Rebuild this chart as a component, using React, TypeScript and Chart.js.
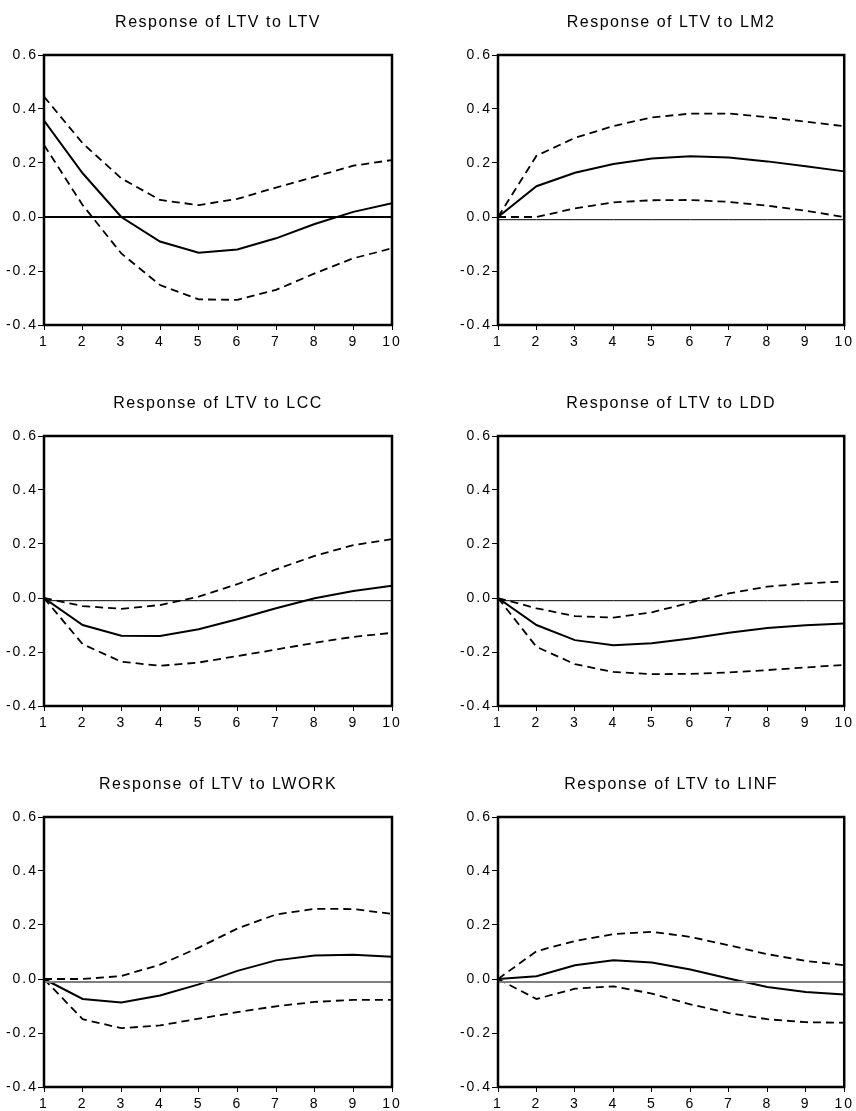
import React, { useEffect, useRef } from "react";
import { Chart, registerables } from "chart.js";

Chart.register(...registerables);

// ---------- data ----------
const periods = [1, 2, 3, 4, 5, 6, 7, 8, 9, 10];
const yMin = -0.4;
const yMax = 0.6;
const yStep = 0.2;

const titles = [
  "Response of LTV to LTV",
  "Response of LTV to LM2",
  "Response of LTV to LCC",
  "Response of LTV to LDD",
  "Response of LTV to LWORK",
  "Response of LTV to LINF",
];

const ltvResp = [0.357, 0.162, 0.0, -0.091, -0.132, -0.12, -0.079, -0.026, 0.019, 0.051];
const ltvUpper = [0.446, 0.273, 0.143, 0.063, 0.044, 0.067, 0.109, 0.149, 0.19, 0.211];
const ltvLower = [0.267, 0.044, -0.135, -0.252, -0.305, -0.307, -0.27, -0.209, -0.153, -0.116];

const lm2Resp = [0, 0.114, 0.164, 0.196, 0.217, 0.225, 0.22, 0.206, 0.188, 0.169];
const lm2Upper = [0, 0.227, 0.293, 0.337, 0.369, 0.383, 0.383, 0.37, 0.353, 0.336];
const lm2Lower = [0, 0.0, 0.032, 0.054, 0.062, 0.063, 0.056, 0.042, 0.023, 0.0];

const lccResp = [0, -0.1, -0.14, -0.141, -0.116, -0.079, -0.038, -0.001, 0.026, 0.045];
const lccUpper = [0, -0.03, -0.04, -0.026, 0.005, 0.051, 0.106, 0.156, 0.196, 0.218];
const lccLower = [0, -0.171, -0.236, -0.251, -0.239, -0.215, -0.191, -0.166, -0.144, -0.129];

const lddResp = [0, -0.1, -0.156, -0.175, -0.168, -0.15, -0.129, -0.111, -0.101, -0.094];
const lddUpper = [0, -0.038, -0.067, -0.073, -0.053, -0.017, 0.017, 0.042, 0.054, 0.061];
const lddLower = [0, -0.181, -0.245, -0.274, -0.282, -0.281, -0.276, -0.267, -0.257, -0.248];

const lworkResp = [0, -0.074, -0.087, -0.061, -0.02, 0.03, 0.069, 0.087, 0.09, 0.082];
const lworkUpper = [0, 0.0, 0.011, 0.053, 0.116, 0.187, 0.239, 0.26, 0.259, 0.241];
const lworkLower = [0, -0.149, -0.182, -0.172, -0.147, -0.123, -0.101, -0.085, -0.077, -0.077];

const linfResp = [0, 0.01, 0.051, 0.069, 0.061, 0.035, 0.002, -0.03, -0.048, -0.057];
const linfUpper = [0, 0.103, 0.141, 0.166, 0.175, 0.156, 0.125, 0.092, 0.067, 0.051];
const linfLower = [0, -0.074, -0.036, -0.027, -0.054, -0.094, -0.126, -0.149, -0.16, -0.162];

const zeroLevels = [0, -0.01, -0.01, -0.01, -0.011, -0.011];

const responses = [ltvResp, lm2Resp, lccResp, lddResp, lworkResp, linfResp];
const uppers = [ltvUpper, lm2Upper, lccUpper, lddUpper, lworkUpper, linfUpper];
const lowers = [ltvLower, lm2Lower, lccLower, lddLower, lworkLower, linfLower];

// ---------- styles ----------
const FONT = "'Liberation Sans', Arial, Helvetica, sans-serif";
const zeroStyles = [
  { color: "#000000", width: 2 },
  { color: "#000000", width: 1 },
  { color: "#000000", width: 1 },
  { color: "#000000", width: 1 },
  { color: "#808080", width: 2 },
  { color: "#808080", width: 2 },
];
const CANVAS_W = 428;
const CANVAS_H = 349;
const ROW_STEP = 381;
const colLayout = [
  { yAxisWidth: 44, padRight: 36 },
  { yAxisWidth: 70, padRight: 10 },
];

const fmt = (v: number) => (Math.abs(v) < 1e-9 ? "0.0" : v.toFixed(1));

function Panel({ index }: { index: number }) {
  const ref = useRef<HTMLCanvasElement | null>(null);
  const col = index % 2;
  const row = Math.floor(index / 2);

  useEffect(() => {
    if (!ref.current) return;
    const toPts = (arr: number[]) => periods.map((p, i) => ({ x: p, y: arr[i] }));
    const zero = zeroLevels[index];
    const zs = zeroStyles[index];
    const lay = colLayout[col];

    const spacingPlugin = {
      id: "spacing",
      beforeDraw(chart: any) {
        (chart.ctx as any).letterSpacing = "1.5px";
      },
      afterDatasetsDraw(chart: any) {
        const ctx = chart.ctx;
        const a = chart.chartArea;
        ctx.save();
        ctx.strokeStyle = "#000";
        ctx.lineWidth = 2.5;
        ctx.setLineDash([]);
        ctx.strokeRect(a.left, a.top, a.right - a.left, a.bottom - a.top);
        ctx.restore();
        (ctx as any).letterSpacing = "2px";
      },
    };

    const tickFont = { family: FONT, size: 14, weight: "normal" as const };

    const chart = new Chart(ref.current, {
      type: "line",
      data: {
        datasets: [
          {
            data: periods.map((p) => ({ x: p, y: zero })),
            borderColor: zs.color,
            borderWidth: zs.width,
            pointRadius: 0,
            tension: 0,
          },
          {
            data: toPts(uppers[index]),
            borderColor: "#000",
            borderWidth: 1.8,
            borderDash: [8, 5],
            pointRadius: 0,
            tension: 0,
          },
          {
            data: toPts(lowers[index]),
            borderColor: "#000",
            borderWidth: 1.8,
            borderDash: [8, 5],
            pointRadius: 0,
            tension: 0,
          },
          {
            data: toPts(responses[index]),
            borderColor: "#000",
            borderWidth: 2,
            pointRadius: 0,
            tension: 0,
          },
        ],
      },
      options: {
        animation: false,
        responsive: false,
        devicePixelRatio: 1,
        layout: { padding: { left: 0, right: lay.padRight, top: 0, bottom: 0 } },
        plugins: {
          legend: { display: false },
          tooltip: { enabled: false },
          title: {
            display: true,
            text: titles[index],
            color: "#000",
            fullSize: false,
            font: { family: FONT, size: 16, weight: "normal" },
            padding: { top: 13.4, bottom: 22.4 },
          },
        },
        scales: {
          x: {
            type: "linear",
            min: 1,
            max: 10,
            ticks: {
              stepSize: 1,
              color: "#000",
              font: tickFont,
              padding: 4,
              z: 1,
              maxRotation: 0,
              autoSkip: false,
              callback: (v: any) => String(v),
            },
            grid: {
              drawOnChartArea: false,
              drawTicks: true,
              tickLength: 5,
              color: "#000",
              lineWidth: 1,
            },
            border: { display: false },
            afterFit: (s: any) => {
              s.height = CANVAS_H - 325;
            },
          },
          y: {
            type: "linear",
            min: yMin,
            max: yMax,
            ticks: {
              stepSize: yStep,
              color: "#000",
              font: tickFont,
              padding: 0,
              z: 1,
              autoSkip: false,
              callback: (v: any) => fmt(Number(v)),
            },
            grid: {
              drawOnChartArea: false,
              drawTicks: true,
              tickLength: 6,
              color: "#000",
              lineWidth: 1,
            },
            border: { display: false },
            afterFit: (s: any) => {
              s.width = lay.yAxisWidth;
            },
          },
        },
      } as any,
      plugins: [spacingPlugin],
    });
    return () => chart.destroy();
  }, [index]);

  return (
    <div
      style={{
        position: "absolute",
        left: col * CANVAS_W,
        top: row * ROW_STEP,
        width: CANVAS_W,
        height: CANVAS_H,
      }}
    >
      <canvas ref={ref} width={CANVAS_W} height={CANVAS_H} />
    </div>
  );
}

export default function App() {
  return (
    <div
      style={{
        position: "absolute",
        left: 0,
        top: 0,
        width: 856,
        height: 1111,
        background: "#fff",
        overflow: "hidden",
      }}
    >
      {titles.map((_, i) => (
        <Panel key={i} index={i} />
      ))}
    </div>
  );
}
